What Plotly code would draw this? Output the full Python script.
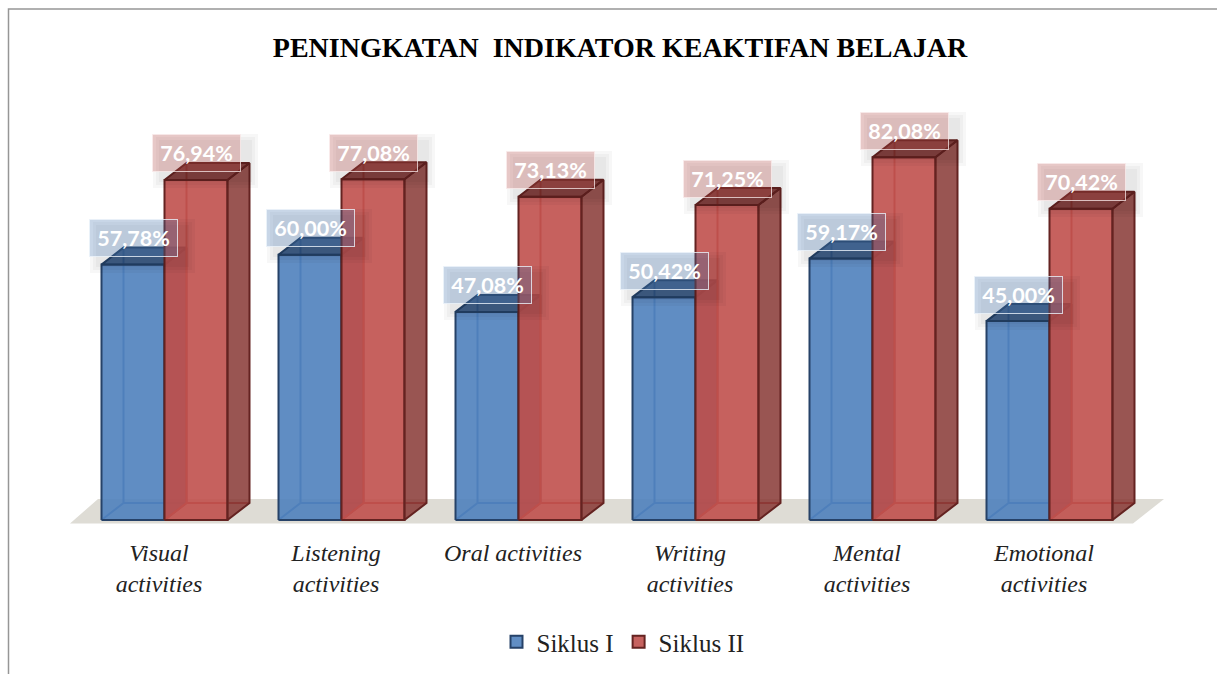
import plotly.graph_objects as go

categories = ["Visual<br>activities", "Listening<br>activities", "Oral activities",
              "Writing<br>activities", "Mental<br>activities", "Emotional<br>activities"]
siklus_1 = [57.78, 60.00, 47.08, 50.42, 59.17, 45.00]
siklus_2 = [76.94, 77.08, 73.13, 71.25, 82.08, 70.42]
labels_1 = ["57,78%", "60,00%", "47,08%", "50,42%", "59,17%", "45,00%"]
labels_2 = ["76,94%", "77,08%", "73,13%", "71,25%", "82,08%", "70,42%"]

W, H = 1217, 674
PX_X = 177.0      # px per category
PX_Y = 4.42       # px per value unit
X0, Y0, BOTTOM = 159, 520, 530
bw = 63 / PX_X
dx = 22 / PX_X
dy = 17 / PX_Y
left = -57.5 / PX_X
xr = [-X0 / PX_X, (W - X0) / PX_X]
yr = [-(BOTTOM - Y0) / PX_Y, Y0 / PX_Y]


def poly_trace(polys, fill, line, lw=1.5, closed=True):
    xs, ys = [], []
    for p in polys:
        pts = p + [p[0]] if closed else p
        xs += [a for a, _ in pts] + [None]
        ys += [b for _, b in pts] + [None]
    return go.Scatter(x=xs, y=ys, mode="lines", fill="toself" if fill else None,
                      fillcolor=fill, line=dict(color=line, width=lw),
                      hoverinfo="skip", showlegend=False, connectgaps=False)


def bar_traces(values, x_off, c):
    inner, front, side, top = [], [], [], []
    for i, v in enumerate(values):
        a, b = i + x_off, i + x_off + bw
        inner.append([(a, 0), (a + dx, dy), (a + dx, v + dy)])
        inner.append([(a + dx, dy), (b + dx, dy)])
        front.append([(a, 0), (b, 0), (b, v), (a, v)])
        side.append([(b, 0), (b + dx, dy), (b + dx, v + dy), (b, v)])
        top.append([(a, v), (b, v), (b + dx, v + dy), (a + dx, v + dy)])
    return [poly_trace(inner, None, c["inner"], 2, closed=False),
            poly_trace(front, c["front"], c["edge"], 2),
            poly_trace(side, c["side"], c["edge"], 2),
            poly_trace(top, c["top"], c["edge"], 2)]


blue = dict(front="rgba(79,129,189,0.9)", side="rgba(50,85,130,0.85)", top="rgba(45,80,125,0.9)",
            edge="rgb(38,66,104)", inner="rgb(70,115,170)")
red = dict(front="rgba(192,80,77,0.9)", side="rgba(135,55,52,0.85)", top="rgba(120,45,43,0.9)",
           edge="rgb(100,35,33)", inner="rgb(172,70,68)")

fig = go.Figure()
n = len(categories)
# floor
fig.add_trace(poly_trace([[(-89 / PX_X, -3.5 / PX_Y), (974 / PX_X, -3.5 / PX_Y),
                           (1005 / PX_X, 21 / PX_Y), (-61 / PX_X, 21 / PX_Y)]],
                         "rgb(222,220,213)", "rgba(0,0,0,0)", 0))
for t in bar_traces(siklus_1, left, blue):
    fig.add_trace(t)
for t in bar_traces(siklus_2, left + bw, red):
    fig.add_trace(t)

# legend entries
for name, col, edge in [("Siklus I", "rgb(97,142,196)", "rgb(38,66,104)"),
                        ("Siklus II", "rgb(198,98,95)", "rgb(100,35,33)")]:
    fig.add_trace(go.Scatter(x=[None], y=[None], mode="markers", name=name,
                             marker=dict(symbol="square", size=15, color=col, line=dict(color=edge, width=2))))

annotations = []
for values, texts, off, rgb, border in [
    (siklus_2, labels_2, left + bw, "192,80,77", "rgba(250,235,235,0.75)"),
    (siklus_1, labels_1, left, "79,129,189", "rgba(235,242,250,0.8)"),
]:
    for i, (v, s) in enumerate(zip(values, texts)):
        xc = i + off + bw / 2
        for grow in (16, 10, 4):
            annotations.append(dict(x=xc, y=v, xref="x", yref="y", text=" ", showarrow=False,
                                    width=89 + grow, height=38 + grow, xshift=9, yshift=26.5 - 8,
                                    bgcolor="rgba(0,0,0,0.03)", borderpad=0, borderwidth=0))
        annotations.append(dict(x=xc, y=v, xref="x", yref="y", text=s, showarrow=False,
                                width=87, height=36, xshift=0.5, yshift=26.5,
                                bgcolor=f"rgba({rgb},0.28)", bordercolor=border, borderwidth=1, borderpad=0,
                                font=dict(family="Lato", size=21.5, color="white", weight=700)))

fig.update_layout(
    width=W, height=H, autosize=False,
    margin=dict(l=0, r=0, t=0, b=H - BOTTOM, pad=0),
    paper_bgcolor="white", plot_bgcolor="rgba(0,0,0,0)",
    title=dict(text="PENINGKATAN \u00a0INDIKATOR KEAKTIFAN BELAJAR", x=620 / W, xanchor="center",
               y=1 - 47 / H, yanchor="middle",
               font=dict(family="Liberation Serif", size=28, color="black", weight=700)),
    xaxis=dict(range=xr, tickvals=list(range(n)), ticktext=categories, showgrid=False, zeroline=False,
               showline=False, ticks="outside", ticklen=1, tickcolor="rgba(0,0,0,0)", fixedrange=True,
               tickfont=dict(family="Liberation Serif", size=24, color="#222", style="italic")),
    yaxis=dict(range=yr, visible=False, fixedrange=True),
    legend=dict(orientation="h", x=623 / W, xanchor="center", y=1 - 642 / H, yanchor="middle", yref="container",
                font=dict(family="Liberation Serif", size=25, color="#222"), itemsizing="constant",
                bgcolor="rgba(0,0,0,0)", traceorder="normal"),
    annotations=annotations,
    shapes=[dict(type="rect", xref="paper", yref="paper", x0=8.5 / W, x1=1.5,
                 y0=(BOTTOM - 9) / BOTTOM, y1=-1,
                 line=dict(color="rgb(150,150,150)", width=1.5), layer="below")],
)

fig.write_html("out.html", config={"displayModeBar": False},
               post_script="document.body.style.margin='0';document.documentElement.style.overflow='hidden';")
